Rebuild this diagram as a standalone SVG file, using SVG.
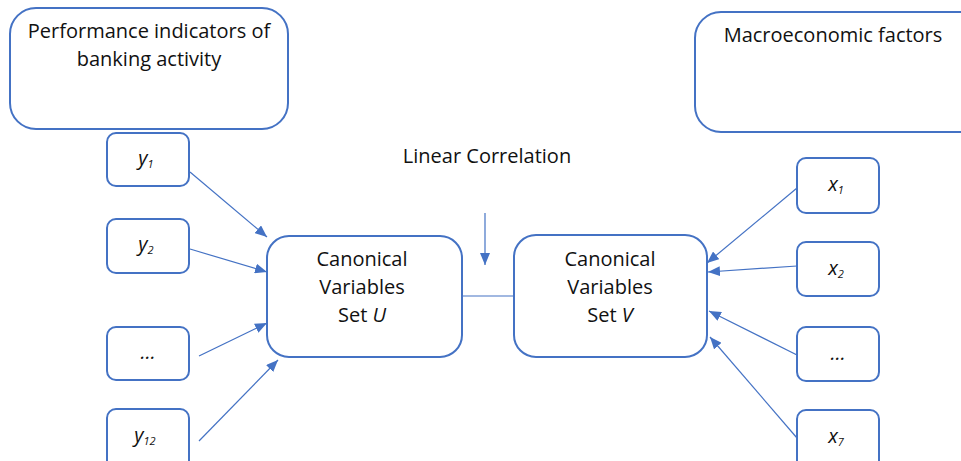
<svg xmlns="http://www.w3.org/2000/svg" width="961" height="461" viewBox="0 0 961 461">
  <defs>
    <marker id="arrow" viewBox="0 0 12 10" refX="12" refY="5" markerWidth="12" markerHeight="10" markerUnits="userSpaceOnUse" orient="auto">
      <path d="M0,0 L12,5 L0,10 z" fill="#4472C4"/>
    </marker>
    <style>
      .box { fill: #ffffff; stroke: #4472C4; stroke-width: 2; }
      .lbl { font-family: "Open Sans", "Liberation Sans", sans-serif; font-size: 20px; fill: #111111; text-anchor: middle; }
      .var { font-family: "Open Sans", "Liberation Sans", sans-serif; font-size: 20px; font-style: italic; fill: #111111; text-anchor: middle; }
      .sub { font-size: 11px; }
      .conn { stroke: #4472C4; stroke-width: 1.2; fill: none; }
    </style>
  </defs>
  <rect width="961" height="461" fill="#ffffff"/>

  <g id="performance">
    <rect class="box" x="10" y="8" width="278" height="121" rx="26"/>
    <text class="lbl" x="149" y="38">Performance indicators of</text>
    <text class="lbl" x="149" y="66">banking activity</text>
  </g>

  <g id="macro">
    <rect class="box" x="695" y="12" width="290" height="120" rx="26"/>
    <text class="lbl" x="833" y="42">Macroeconomic factors</text>
  </g>

  <g id="y1">
    <rect class="box" x="107" y="133" width="82" height="53" rx="9"/>
    <text class="var" x="146" y="165">y<tspan class="sub" dy="3">1</tspan></text>
  </g>
  <g id="y2">
    <rect class="box" x="107" y="219" width="82" height="54" rx="9"/>
    <text class="var" x="146" y="251">y<tspan class="sub" dy="3">2</tspan></text>
  </g>
  <g id="ydots">
    <rect class="box" x="107" y="327" width="82" height="53" rx="9"/>
    <text class="var" x="148" y="359">…</text>
  </g>
  <g id="y12">
    <rect class="box" x="107" y="409" width="82" height="60" rx="9"/>
    <text class="var" x="145" y="442">y<tspan class="sub" dy="3">12</tspan></text>
  </g>

  <g id="x1">
    <rect class="box" x="797" y="158" width="82" height="55" rx="9"/>
    <text class="var" x="836" y="191">x<tspan class="sub" dy="3">1</tspan></text>
  </g>
  <g id="x2">
    <rect class="box" x="797" y="242" width="82" height="54" rx="9"/>
    <text class="var" x="836" y="275">x<tspan class="sub" dy="3">2</tspan></text>
  </g>
  <g id="xdots">
    <rect class="box" x="797" y="327" width="82" height="54" rx="9"/>
    <text class="var" x="838" y="360">…</text>
  </g>
  <g id="x7">
    <rect class="box" x="797" y="410" width="82" height="60" rx="9"/>
    <text class="var" x="836" y="443">x<tspan class="sub" dy="3">7</tspan></text>
  </g>

  <g id="setU">
    <rect class="box" x="267" y="236" width="195" height="121" rx="22"/>
    <text class="lbl" x="362" y="266">Canonical</text>
    <text class="lbl" x="362" y="294">Variables</text>
    <text class="lbl" x="362" y="322">Set <tspan font-style="italic">U</tspan></text>
  </g>

  <g id="setV">
    <rect class="box" x="514" y="235" width="193" height="122" rx="22"/>
    <text class="lbl" x="610" y="266">Canonical</text>
    <text class="lbl" x="610" y="294">Variables</text>
    <text class="lbl" x="610" y="322">Set <tspan font-style="italic">V</tspan></text>
  </g>

  <g id="correlation">
    <text class="lbl" x="487" y="163">Linear Correlation</text>
  </g>

  <g id="connectors">
    <line class="conn" x1="190" y1="172" x2="267" y2="237" marker-end="url(#arrow)"/>
    <line class="conn" x1="190" y1="249" x2="267" y2="272" marker-end="url(#arrow)"/>
    <line class="conn" x1="199" y1="356" x2="267" y2="323" marker-end="url(#arrow)"/>
    <line class="conn" x1="199" y1="441" x2="278" y2="360" marker-end="url(#arrow)"/>
    <line class="conn" x1="797" y1="188" x2="707" y2="263" marker-end="url(#arrow)"/>
    <line class="conn" x1="797" y1="266" x2="708" y2="272" marker-end="url(#arrow)"/>
    <line class="conn" x1="797" y1="355" x2="709" y2="311" marker-end="url(#arrow)"/>
    <line class="conn" x1="797" y1="438" x2="710" y2="337" marker-end="url(#arrow)"/>
    <line class="conn" x1="485" y1="213" x2="485" y2="265" marker-end="url(#arrow)"/>
    <line class="conn" x1="462" y1="296" x2="514" y2="296"/>
  </g>
</svg>
